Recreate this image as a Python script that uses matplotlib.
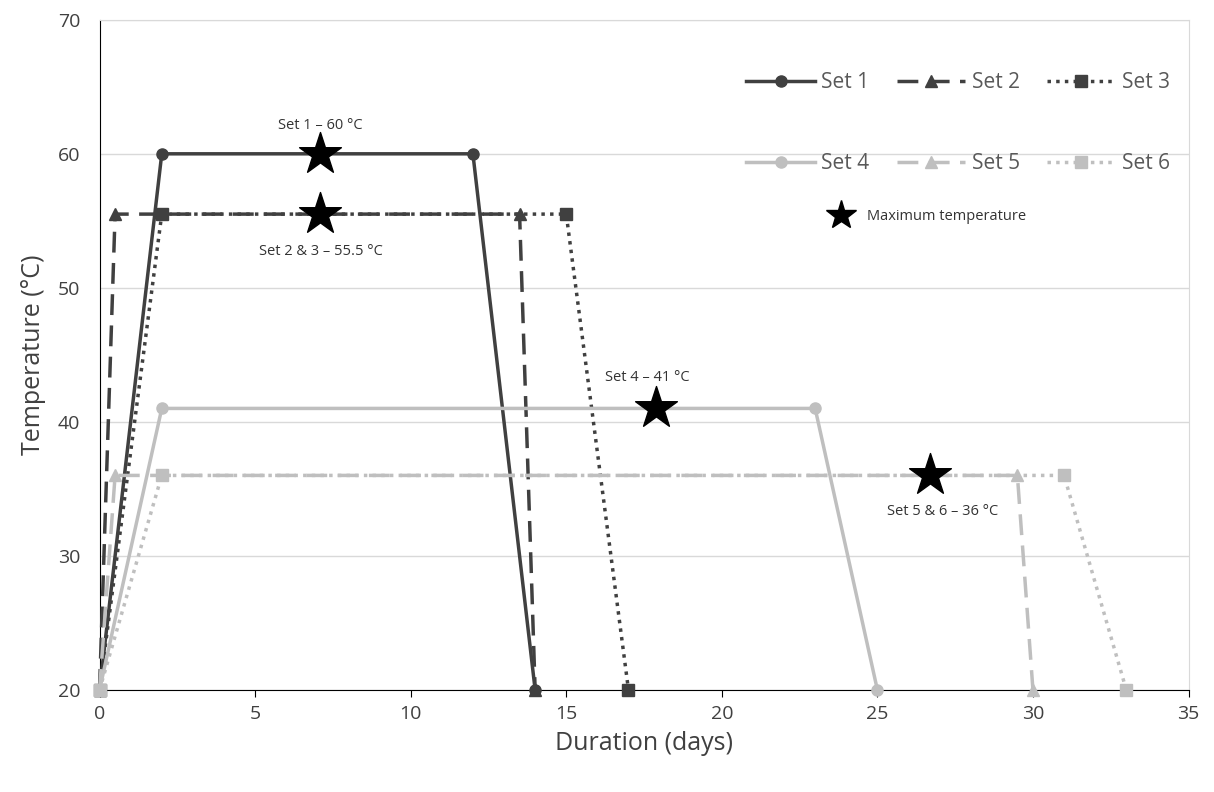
import matplotlib
matplotlib.use("Agg")
import matplotlib.pyplot as plt
from matplotlib.lines import Line2D

plt.rcParams["font.family"] = ["Open Sans", "DejaVu Sans"]

DARK = "#404040"
LIGHT = "#bfbfbf"
TXT = "#595959"

set1_x = [0, 2, 12, 14];      set1_y = [20, 60, 60, 20]
set2_x = [0, 0.5, 13.5, 14];  set2_y = [20, 55.5, 55.5, 20]
set3_x = [0, 2, 15, 17];      set3_y = [20, 55.5, 55.5, 20]
set4_x = [0, 2, 23, 25];      set4_y = [20, 41, 41, 20]
set5_x = [0, 0.5, 29.5, 30];  set5_y = [20, 36, 36, 20]
set6_x = [0, 2, 31, 33];      set6_y = [20, 36, 36, 20]

star_x = [7.1, 7.1, 17.9, 26.7]
star_y = [60, 55.5, 41, 36]
star_labels = ["Set 1 – 60 °C", "Set 2 & 3 – 55.5 °C", "Set 4 – 41 °C", "Set 5 & 6 – 36 °C"]
label_pos = [(7.1, 62.1), (7.1, 52.7), (17.6, 43.3), (27.1, 33.3)]

fig = plt.figure(figsize=(12.14, 7.92), dpi=100)
ax = fig.add_axes([0.082, 0.129, 0.897, 0.846])

series = [
    ("Set 1", set1_x, set1_y, DARK, "-", "o"),
    ("Set 2", set2_x, set2_y, DARK, (0, (6, 3)), "^"),
    ("Set 3", set3_x, set3_y, DARK, (0, (1, 1.5)), "s"),
    ("Set 4", set4_x, set4_y, LIGHT, "-", "o"),
    ("Set 5", set5_x, set5_y, LIGHT, (0, (6, 3)), "^"),
    ("Set 6", set6_x, set6_y, LIGHT, (0, (1, 1.5)), "s"),
]
handles = {}
for name, x, y, c, ls, m in series:
    h, = ax.plot(x, y, color=c, linestyle=ls, marker=m, lw=2.5, ms=8, label=name, clip_on=False, zorder=3)
    handles[name] = h

ax.scatter(star_x, star_y, marker="*", s=1000, color="black", zorder=5)
for (lx, ly), t in zip(label_pos, star_labels):
    ax.text(lx, ly, t, ha="center", va="center", fontsize=10.5, color="#333333")

ax.set_xlim(0, 35)
ax.set_ylim(20, 70)
ax.set_xticks(range(0, 36, 5))
ax.set_yticks(range(20, 71, 10))
ax.yaxis.grid(True, color="#d9d9d9", lw=1)
ax.set_axisbelow(True)
for s in ax.spines.values():
    s.set_color("#d9d9d9")
ax.spines["left"].set_color("black")
ax.spines["bottom"].set_color("black")
ax.tick_params(labelsize=14, colors="black", labelcolor="#404040", length=5, pad=6)
ax.tick_params(axis="y", length=0, pad=14)
ax.set_xlabel("Duration (days)", fontsize=18, color="#404040", labelpad=6)
ax.set_ylabel("Temperature (°C)", fontsize=18, color="#404040", labelpad=8)

order = ["Set 1", "Set 4", "Set 2", "Set 5", "Set 3", "Set 6"]
leg = ax.legend([handles[n] for n in order], order, ncol=3, loc="upper right",
                bbox_to_anchor=(1.0, 0.95), frameon=False, fontsize=15,
                labelcolor=TXT, handlelength=3.3, columnspacing=1.3, labelspacing=2.9,
                handletextpad=0.3)
ax.add_artist(leg)
star_h = Line2D([], [], marker="*", color="black", ls="none", ms=22)
ax.legend([star_h], ["Maximum temperature"], loc="upper left", bbox_to_anchor=(0.655, 0.737),
          frameon=False, fontsize=10.5, labelcolor="#333333")

fig.savefig("out.png", dpi=100)
